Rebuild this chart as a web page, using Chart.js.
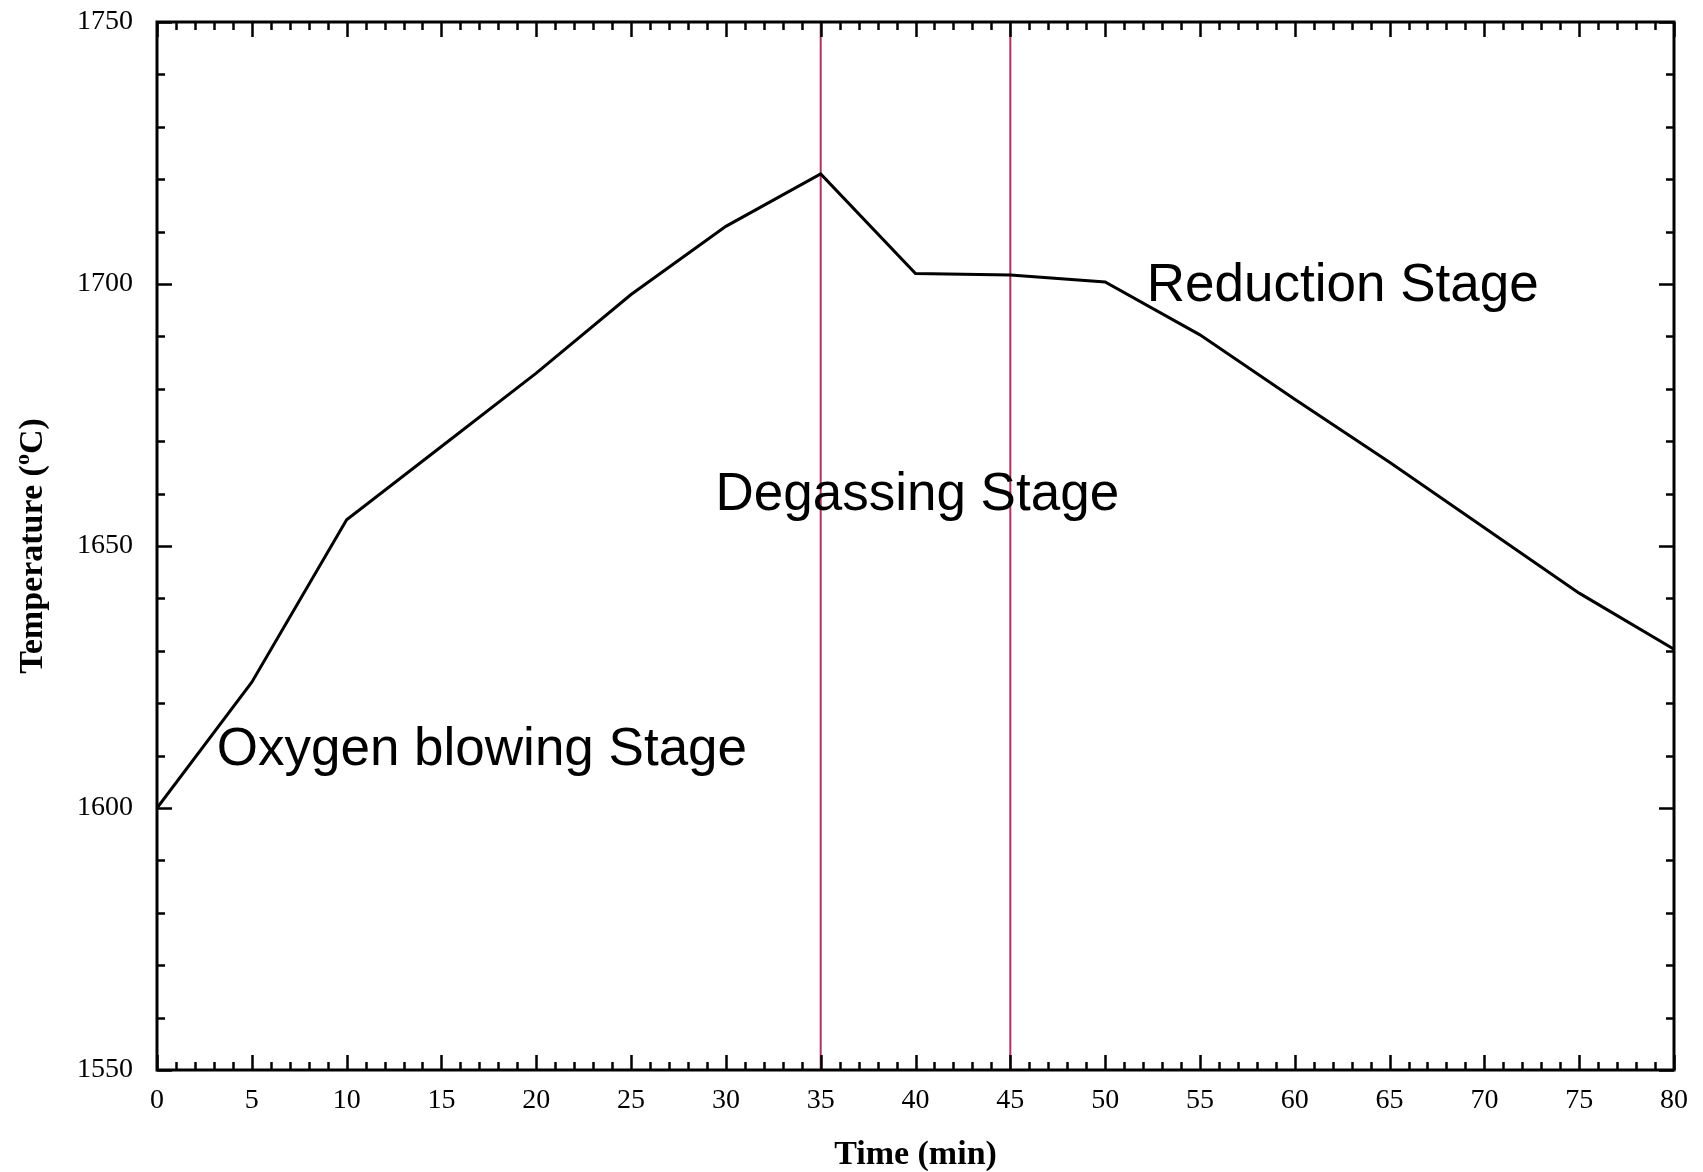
<!DOCTYPE html>
<html>
<head>
<meta charset="utf-8">
<title>Temperature vs Time</title>
<script src="https://cdn.jsdelivr.net/npm/chart.js@4/dist/chart.umd.min.js"></script>
<style>
  html, body { margin: 0; padding: 0; background: #ffffff; }
  #wrap { width: 1703px; height: 1172px; }
</style>
</head>
<body>
<div id="wrap"><canvas id="chart" width="1703" height="1172"></canvas></div>
<script>
// Melt temperature over the refining cycle
const timeMin = [0, 5, 10, 15, 20, 25, 30, 35, 40, 45, 50, 55, 60, 65, 70, 75, 80];
const temperatureC = [1600, 1624, 1655, 1669, 1683, 1698, 1711, 1721, 1702, 1701.7, 1700.4, 1690.3, 1678, 1666, 1653.5, 1641, 1630.3];

// Boundaries between process stages (min)
const stageBoundaries = [35, 45];

// Stage captions and their anchor points in data units (left edge, baseline)
const stageNames = ['Oxygen blowing Stage', 'Degassing Stage', 'Reduction Stage'];
const stageAnchorX = [3.15, 29.45, 52.2];
const stageAnchorY = [1608.3, 1656.9, 1696.8];

// Axis tick labels
const xTickLabels = ['0', '5', '10', '15', '20', '25', '30', '35', '40', '45', '50', '55', '60', '65', '70', '75', '80'];
const yTickLabels = ['1550', '1600', '1650', '1700', '1750'];

const X_MIN = 0, X_MAX = 80, Y_MIN = 1550, Y_MAX = 1750;

const curve = timeMin.map((t, i) => ({ x: t, y: temperatureC[i] }));
const boundaryDatasets = stageBoundaries.map(b => ({
  data: [{ x: b, y: Y_MIN }, { x: b, y: Y_MAX }],
  borderColor: '#b03060',
  borderWidth: 2,
  pointRadius: 0,
  fill: false,
  order: 2
}));

// Closed frame with inward major/minor ticks on all four sides
const framePlugin = {
  id: 'frame',
  afterDraw(chart) {
    const { ctx, chartArea: a, scales: { x, y } } = chart;
    ctx.save();
    ctx.strokeStyle = '#000';
    ctx.lineCap = 'butt';
    ctx.lineWidth = 2.5;
    ctx.beginPath();
    for (let v = X_MIN; v <= X_MAX; v += 1) {
      const px = Math.round(x.getPixelForValue(v)) + 0.5;
      const len = v % 5 === 0 ? 15 : 8;
      ctx.moveTo(px, a.bottom); ctx.lineTo(px, a.bottom - len);
      ctx.moveTo(px, a.top); ctx.lineTo(px, a.top + len);
    }
    for (let v = Y_MIN; v <= Y_MAX; v += 10) {
      const py = Math.round(y.getPixelForValue(v)) + 0.5;
      const len = v % 50 === 0 ? 15 : 8;
      ctx.moveTo(a.left, py); ctx.lineTo(a.left + len, py);
      ctx.moveTo(a.right, py); ctx.lineTo(a.right - len, py);
    }
    ctx.stroke();
    ctx.lineWidth = 3;
    ctx.strokeRect(a.left, a.top, a.right - a.left, a.bottom - a.top);
    ctx.restore();
  }
};

// Stage captions placed through the scales
const stageLabelPlugin = {
  id: 'stageLabels',
  afterDatasetsDraw(chart) {
    const { ctx, scales: { x, y } } = chart;
    ctx.save();
    ctx.fillStyle = '#000';
    ctx.font = '53px "Liberation Sans", Arial, sans-serif';
    ctx.textAlign = 'left';
    ctx.textBaseline = 'alphabetic';
    stageNames.forEach((name, i) => {
      ctx.fillText(name, x.getPixelForValue(stageAnchorX[i]), y.getPixelForValue(stageAnchorY[i]));
    });
    ctx.restore();
  }
};

// Rotated y-axis title with a superscript degree "o"
const yTitlePlugin = {
  id: 'yTitle',
  afterDraw(chart) {
    const { ctx, chartArea: a } = chart;
    const big = 'bold 34px "Liberation Serif", "Times New Roman", serif';
    const small = 'bold 22px "Liberation Serif", "Times New Roman", serif';
    const p1 = 'Temperature (', sup = 'o', p2 = 'C)';
    ctx.save();
    ctx.fillStyle = '#000';
    ctx.font = big; const w1 = ctx.measureText(p1).width; const w3 = ctx.measureText(p2).width;
    ctx.font = small; const w2 = ctx.measureText(sup).width;
    const total = w1 + w2 + w3;
    ctx.translate(42, (a.top + a.bottom) / 2);
    ctx.rotate(-Math.PI / 2);
    ctx.textBaseline = 'alphabetic';
    ctx.textAlign = 'left';
    let cx = -total / 2;
    ctx.font = big; ctx.fillText(p1, cx, 0); cx += w1;
    ctx.font = small; ctx.fillText(sup, cx, -13); cx += w2;
    ctx.font = big; ctx.fillText(p2, cx, 0);
    ctx.restore();
  }
};

const tickFont = { family: '"Liberation Serif", "Times New Roman", serif', size: 28 };

new Chart(document.getElementById('chart'), {
  type: 'line',
  data: {
    datasets: [
      {
        data: curve,
        borderColor: '#000',
        borderWidth: 3,
        pointRadius: 0,
        fill: false,
        tension: 0,
        order: 1
      },
      ...boundaryDatasets
    ]
  },
  options: {
    responsive: false,
    animation: false,
    devicePixelRatio: 1,
    layout: { padding: { top: 22, right: 29, left: 0, bottom: 0 } },
    plugins: { legend: { display: false }, tooltip: { enabled: false } },
    scales: {
      x: {
        type: 'linear',
        min: X_MIN,
        max: X_MAX,
        grid: { display: false },
        border: { display: false },
        ticks: {
          stepSize: 5,
          autoSkip: false,
          maxRotation: 0,
          color: '#000',
          font: tickFont,
          padding: 6,
          callback: (v, i) => xTickLabels[i]
        },
        title: {
          display: true,
          text: 'Time (min)',
          color: '#000',
          font: { family: '"Liberation Serif", "Times New Roman", serif', size: 34, weight: 'bold' },
          padding: { top: 0, bottom: -4 }
        },
        afterFit: s => { s.height = 102; s.paddingLeft = 0; s.paddingRight = 0; }
      },
      y: {
        min: Y_MIN,
        max: Y_MAX,
        grid: { display: false },
        border: { display: false },
        ticks: {
          stepSize: 50,
          color: '#000',
          font: tickFont,
          padding: 16,
          callback: (v, i) => yTickLabels[i]
        },
        afterFit: s => { s.width = 157; s.paddingTop = 0; s.paddingBottom = 0; }
      }
    }
  },
  plugins: [framePlugin, stageLabelPlugin, yTitlePlugin]
});
</script>
</body>
</html>
